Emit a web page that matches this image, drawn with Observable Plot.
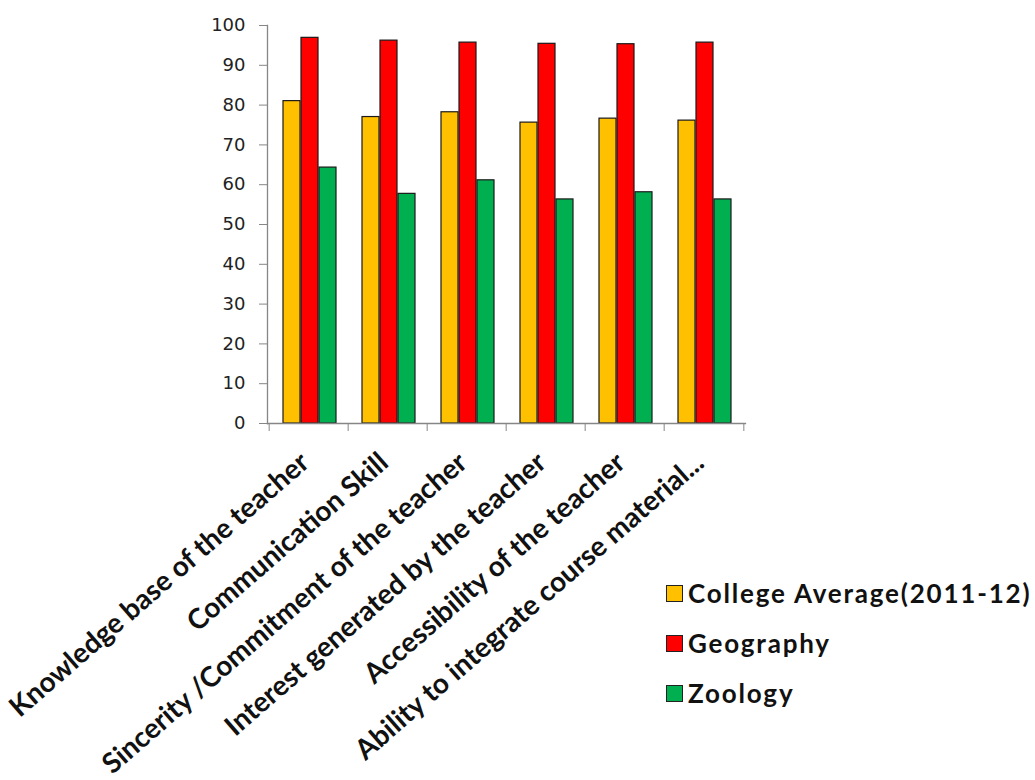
<!DOCTYPE html>
<html>
<head>
<meta charset="utf-8">
<script src="https://cdn.jsdelivr.net/npm/d3@7"></script>
<script src="https://cdn.jsdelivr.net/npm/@observablehq/plot@0.6"></script>
<style>
  html, body { margin: 0; padding: 0; background: #fff; }
  #wrap { position: relative; width: 1035px; height: 780px; }
  #legend { position: absolute; left: 666px; top: 568px; font-family: Lato, sans-serif; font-weight: 700; font-size: 26px; letter-spacing: 1.8px; color: #111; }
  .row { display: flex; align-items: center; height: 50px; }
  .sw { width: 15px; height: 15px; border: 1px solid #222; margin-right: 5px; flex: none; }
</style>
</head>
<body>
<div id="wrap"><div id="chart"></div><div id="legend"></div></div>
<script>
const categories = [
  "Knowledge base of the teacher",
  "Communication Skill",
  "Sincerity /Commitment of the teacher",
  "Interest generated by the teacher",
  "Accessibility of the teacher",
  "Ability to integrate course material..."
];
const seriesNames = ["College Average(2011-12)", "Geography", "Zoology"];
const collegeAverage = [81.0, 77.0, 78.2, 75.6, 76.6, 76.1];
const geography = [96.9, 96.2, 95.7, 95.4, 95.3, 95.7];
const zoology = [64.3, 57.7, 61.1, 56.3, 58.1, 56.3];
const colors = ["#FFC000", "#FF0000", "#00B050"];
const yTicks = [0, 10, 20, 30, 40, 50, 60, 70, 80, 90, 100];

const seriesValues = [collegeAverage, geography, zoology];
const rows = seriesValues.map(vals => categories.map((c, i) => ({category: c, value: vals[i]})));
const insets = [[14, 48], [32, 30], [50, 12]];
const halfBand = (1035 - 267 - 290) / categories.length / 2;

const chart = Plot.plot({
  width: 1035,
  height: 780,
  marginLeft: 267,
  marginRight: 290,
  marginTop: 25,
  marginBottom: 357,
  style: {fontFamily: "Lato, sans-serif", background: "#fff"},
  x: {domain: categories, padding: 0, axis: null},
  y: {domain: [0, 100], axis: null},
  marks: [
    ...rows.map((data, k) => Plot.barY(data, {
      x: "category", y: "value", fill: colors[k], stroke: "#1a1a1a", strokeWidth: 1.2,
      insetLeft: insets[k][0], insetRight: insets[k][1]
    })),
    Plot.frame({anchor: "left", stroke: "#868686", strokeWidth: 1.3}),
    Plot.frame({anchor: "bottom", stroke: "#868686", strokeWidth: 1.3}),
    Plot.axisY({ticks: yTicks, tickSize: 8, tickPadding: 14, stroke: "#868686", fontSize: 18, fontFamily: "DejaVu Sans", fill: "#222", label: null, style: {letterSpacing: "3px"}}),
    Plot.axisX(categories, {text: null, tickSize: 8, dx: -halfBand, stroke: "#868686", label: null}),
    Plot.axisX([categories[categories.length - 1]], {text: null, tickSize: 8, dx: halfBand, stroke: "#868686", label: null}),
    Plot.axisX({tickSize: 0, tickRotate: -41, tickPadding: 35, dx: -4, fontSize: 28, fontWeight: "bold", fill: "#111", label: null, style: {letterSpacing: "2.2px"}})
  ]
});
document.getElementById("chart").appendChild(chart);

const legend = document.getElementById("legend");
seriesNames.forEach((name, k) => {
  const row = document.createElement("div");
  row.className = "row";
  const sw = document.createElement("span");
  sw.className = "sw";
  sw.style.background = colors[k];
  const t = document.createElement("span");
  t.textContent = name;
  row.appendChild(sw);
  row.appendChild(t);
  legend.appendChild(row);
});
</script>
</body>
</html>
